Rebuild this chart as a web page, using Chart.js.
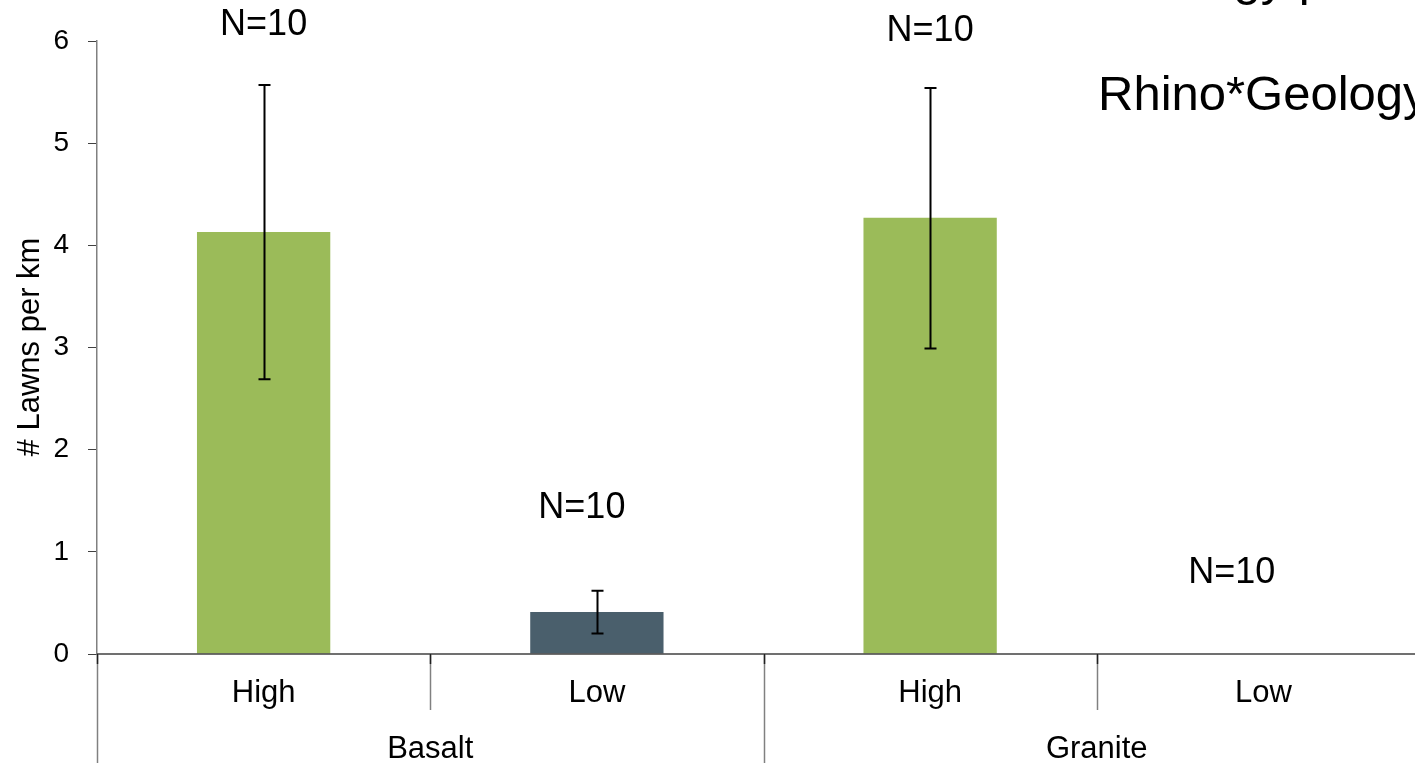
<!DOCTYPE html>
<html>
<head>
<meta charset="utf-8">
<title>Lawns per km</title>
<script src="https://cdn.jsdelivr.net/npm/chart.js@4"></script>
<style>
  html, body { margin: 0; padding: 0; background: #fff; overflow: hidden; }
  #wrap { position: relative; width: 1440px; height: 763px; }
</style>
</head>
<body>
<div id="wrap"><canvas id="lawnChart"></canvas></div>
<script>
const geology = ["Basalt", "Granite"];
const density = ["High", "Low", "High", "Low"];
const lawns = [4.13, 0.41, 4.27, 0];
const errLow = [2.69, 0.20, 2.99, null];
const errHigh = [5.57, 0.62, 5.54, null];
const nLabels = ["N=10", "N=10", "N=10", "N=10"];
const nLabelX = [0, 0.955, 2.0, 2.905]; // category units, labels were hand placed
const nLabelY = [6.16, 1.43, 6.10, 0.79];
const yTicks = [0, 1, 2, 3, 4, 5, 6];
const barColors = ["#9BBB59", "#4A5F6C", "#9BBB59", "#4A5F6C"];
const yTitle = "# Lawns per km";
const note = "Rhino*Geology";
const topLine = "Geology p";

const FONT = "'Liberation Sans', Arial, sans-serif";

const extras = {
  id: 'extras',
  afterDraw(chart) {
    const c = chart.ctx;
    const x = chart.scales.x;
    const y = chart.scales.y;
    const area = chart.chartArea;
    const w = (x.right - x.left) / density.length;

    c.save();

    // error bars
    c.strokeStyle = '#000';
    c.lineWidth = 2;
    lawns.forEach((v, i) => {
      if (errLow[i] == null) return;
      const cx = Math.round(x.getPixelForValue(i)) + 0.5;
      const top = y.getPixelForValue(errHigh[i]);
      const bot = y.getPixelForValue(errLow[i]);
      c.beginPath();
      c.moveTo(cx, top); c.lineTo(cx, bot);
      c.moveTo(cx - 6, top); c.lineTo(cx + 6, top);
      c.moveTo(cx - 6, bot); c.lineTo(cx + 6, bot);
      c.stroke();
    });

    // N labels
    c.fillStyle = '#000';
    c.font = '36px ' + FONT;
    c.textAlign = 'center';
    c.textBaseline = 'middle';
    nLabels.forEach((t, i) => {
      const px = x.left + (nLabelX[i] + 0.5) * w;
      c.fillText(t, px, y.getPixelForValue(nLabelY[i]));
    });

    // x axis line
    c.strokeStyle = '#404040';
    c.lineWidth = 1.5;
    c.beginPath();
    c.moveTo(area.left, area.bottom);
    c.lineTo(area.right, area.bottom);
    c.stroke();

    // category dividers
    for (let k = 0; k <= density.length; k++) {
      const bx = Math.round(x.left + k * w) + 0.5;
      c.strokeStyle = '#808080';
      c.lineWidth = 1.5;
      c.beginPath();
      c.moveTo(bx, area.bottom);
      c.lineTo(bx, k % 2 === 0 ? chart.height : area.bottom + 56);
      c.stroke();
      c.strokeStyle = '#202020';
      c.beginPath();
      c.moveTo(bx, area.bottom);
      c.lineTo(bx, area.bottom + 10);
      c.stroke();
    }

    // category labels
    c.font = '31px ' + FONT;
    density.forEach((t, i) => {
      c.fillText(t, x.left + (i + 0.5) * w, area.bottom + 39);
    });
    geology.forEach((t, g) => {
      c.fillText(t, x.left + (2 * g + 1) * w, area.bottom + 95);
    });

    // y title
    c.save();
    c.translate(30, 347);
    c.rotate(-Math.PI / 2);
    c.font = '31px ' + FONT;
    c.fillText(yTitle, 0, 0);
    c.restore();

    // annotation text
    c.font = '49px ' + FONT;
    c.textAlign = 'left';
    c.textBaseline = 'alphabetic';
    c.fillText(note, 1098, 110);
    c.textAlign = 'right';
    c.fillText(topLine, 1326, -5);

    c.restore();
  }
};

const ctx = document.getElementById('lawnChart').getContext('2d');
const lawnChart = new Chart(ctx, {
  type: 'bar',
  data: {
    labels: density,
    datasets: [{
      data: lawns,
      backgroundColor: barColors,
      borderWidth: 0,
      barPercentage: 0.4,
      categoryPercentage: 1.0
    }]
  },
  options: {
    responsive: true,
    maintainAspectRatio: false,
    animation: false,
    layout: { padding: { left: 0, top: 41, right: 10, bottom: 0 } },
    plugins: {
      legend: { display: false },
      tooltip: { enabled: false }
    },
    scales: {
      x: {
        type: 'category',
        offset: true,
        grid: { display: false },
        border: { display: false },
        ticks: { display: false },
        afterFit: s => { s.height = 109; }
      },
      y: {
        min: 0,
        max: 6,
        afterBuildTicks: s => { s.ticks = yTicks.map(v => ({ value: v })); },
        grid: { drawOnChartArea: false, drawTicks: true, tickLength: 9, color: '#404040', lineWidth: 1 },
        border: { display: true, color: '#808080', width: 1.5 },
        ticks: { font: { family: FONT, size: 28 }, color: '#000', padding: 19 },
        afterFit: s => { s.width = 97; }
      }
    }
  },
  plugins: [extras]
});
</script>
</body>
</html>
